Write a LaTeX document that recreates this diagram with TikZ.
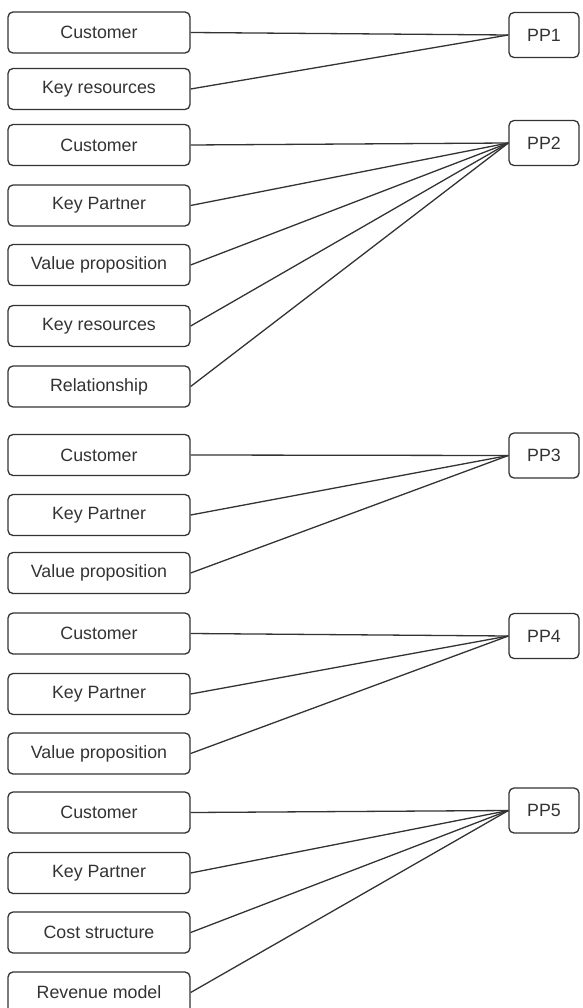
\documentclass[tikz,border=0pt]{standalone}
\usepackage{fontspec}
\setmainfont{Liberation Sans}
\definecolor{ink}{HTML}{333333}
\begin{document}
\begin{tikzpicture}[x=1pt,y=-1pt,
  item/.style={draw=ink, line width=1.3pt, rounded corners=5pt, fill=white,
    minimum width=182pt, minimum height=41pt, inner sep=0pt, text=ink,
    font=\fontsize{17.8}{20}\selectfont},
  pp/.style={item, minimum width=70pt, minimum height=45pt},
  link/.style={draw=ink, line width=1.3pt}]
\useasboundingbox (0,0) rectangle (582,1008);

% Left column: building blocks
\foreach \n/\y/\t in {
  a1/32.5/Customer, a2/89/Key resources,
  b1/145/Customer, b2/205.5/Key Partner, b3/265/Value proposition, b4/326/Key resources, b5/386.5/Relationship,
  c1/455/Customer, c2/515/Key Partner, c3/573/Value proposition,
  d1/633.5/Customer, d2/694/Key Partner, d3/753.5/Value proposition,
  e1/812.5/Customer, e2/873/Key Partner, e3/932.5/Cost structure, e4/992.5/Revenue model}
  \node[item] (\n) at (99,\y) {\t};

% Right column: PP boxes
\node[pp] (p1) at (544,35) {PP1};
\node[pp] (p2) at (544,143) {PP2};
\node[pp] (p3) at (544,455.5) {PP3};
\node[pp] (p4) at (544,636) {PP4};
\node[pp] (p5) at (544,810.5) {PP5};

% Connectors
\foreach \s in {a1,a2} \draw[link] (\s.east) -- (p1.west);
\foreach \s in {b1,b2,b3,b4,b5} \draw[link] (\s.east) -- (p2.west);
\foreach \s in {c1,c2,c3} \draw[link] (\s.east) -- (p3.west);
\foreach \s in {d1,d2,d3} \draw[link] (\s.east) -- (p4.west);
\foreach \s in {e1,e2,e3,e4} \draw[link] (\s.east) -- (p5.west);
\end{tikzpicture}
\end{document}
